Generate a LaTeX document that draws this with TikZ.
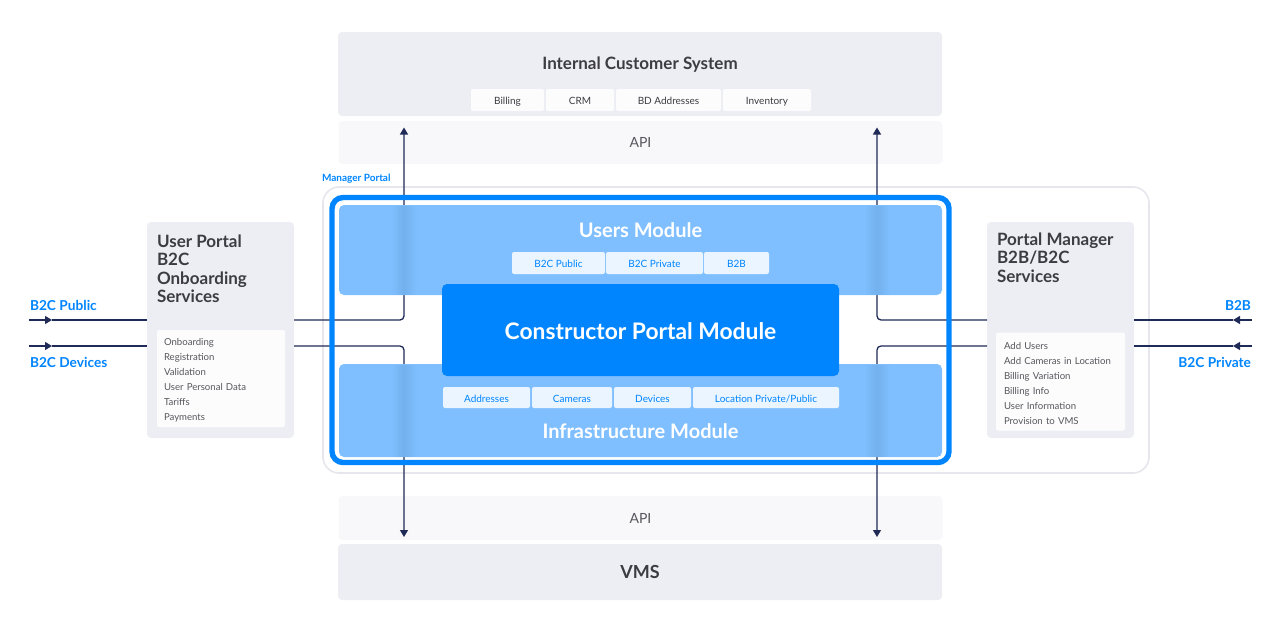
\documentclass[tikz,border=0pt]{standalone}
\usepackage{fontspec}
\setmainfont{Lato}
\usetikzlibrary{arrows.meta}
\definecolor{blueA}{HTML}{0085FF}
\definecolor{blueB}{HTML}{80BFFF}
\definecolor{blueC}{HTML}{72B1EC}
\definecolor{tabblue}{HTML}{EBF5FF}
\definecolor{greyA}{HTML}{EDEEF3}
\definecolor{greyB}{HTML}{F8F8FB}
\definecolor{greyC}{HTML}{E6E6EC}
\definecolor{inkA}{HTML}{3C3C42}
\definecolor{inkB}{HTML}{56565C}
\definecolor{wire}{HTML}{1F2A56}
\newcommand{\fs}[1]{\fontsize{#1}{#1}\selectfont}
\newcommand{\listtop}{\rule{0pt}{11pt}}
\begin{document}
\begin{tikzpicture}[
		x=1pt, y=-1pt,
		every node/.style={inner sep=0pt, outer sep=0pt},
		panel/.style={fill=greyA, rounded corners=4pt, text=inkA, font=\fs{17}\bfseries},
		band/.style={fill=greyB, rounded corners=4pt, text=inkB, font=\fs{14}},
		module/.style={fill=blueB, rounded corners=5pt},
		tabgrey/.style={fill=white!60!greyB, rounded corners=2pt, minimum height=22pt, text=inkA, font=\fs{10}, text height=10pt, text depth=0.5pt},
		tabblue/.style={fill=tabblue, rounded corners=2pt, minimum height=22pt, text=blueA, font=\fs{10}, text height=10pt, text depth=0.5pt},
		heading/.style={text=inkA, font=\fs{17}\bfseries, align=left, anchor=north west},
		listbox/.style={fill=white!60!greyB, rounded corners=2pt, text=inkB, font=\fs{9.6}, align=left},
		title/.style={text=white, font=\fs{20}\bfseries},
		side/.style={text=blueA, font=\fs{13.7}\bfseries},
		flow/.style={draw=wire, line width=1.3pt, rounded corners=4pt},
		tip/.style={-{Triangle[length=7pt,width=8pt]}},
		stripe/.style={left color=blueB, right color=blueB, middle color=blueC, minimum width=26pt}
	]
	\useasboundingbox (0,0) rectangle (1280,643);

	% outer portal frame
	\node (portal) [draw=greyC, line width=1.6pt, rounded corners=16pt, minimum width=826pt, minimum height=286pt] at (736,330) {};
	\node (portallabel) [text=blueA, font=\fs{10}\bfseries, anchor=west] at (322,178.5) {Manager Portal};

	% systems above and below
	\node (ics) [panel, minimum width=604pt, minimum height=84pt] at (640,74) {};
	\node (icstitle) [text=inkA, font=\fs{17}\bfseries] at (640,65) {Internal Customer System};
	\node (billing) [tabgrey, minimum width=73pt] at (507.5,100) {Billing};
	\node (crm) [tabgrey, minimum width=68pt] at (580,100) {CRM};
	\node (bdaddr) [tabgrey, minimum width=105pt] at (668.5,100) {BD Addresses};
	\node (inventory) [tabgrey, minimum width=88pt] at (767,100) {Inventory};
	\node (apitop) [band, minimum width=604pt, minimum height=43pt] at (640.5,142.5) {API};
	\node (apibot) [band, minimum width=604pt, minimum height=44pt] at (640.5,518) {API};
	\node (vms) [panel, minimum width=604pt, minimum height=56pt, font=\fs{18}\bfseries] at (640,572) {VMS};

	% side services
	\node (userbox) [panel, minimum width=147pt, minimum height=216pt] at (220.5,330) {};
	\node (userhead) [heading] at (157,235) {User Portal\\[1.3pt]B2C\\[1.3pt]Onboarding\\[1.3pt]Services};
	\node (userlist) [listbox, text width=114pt, inner xsep=7pt, minimum height=97pt] at (221,378.5) {\listtop Onboarding\\[5.4pt]Registration\\[5.4pt]Validation\\[5.4pt]User Personal Data\\[5.4pt]Tariffs\\[5.4pt]Payments};
	\node (mgrbox) [panel, minimum width=147pt, minimum height=216pt] at (1060.5,330) {};
	\node (mgrhead) [heading] at (997,233) {Portal Manager\\[1.3pt]B2B/B2C\\[1.3pt]Services};
	\node (mgrlist) [listbox, text width=113pt, inner xsep=8pt, minimum height=98pt] at (1060.5,381.5) {\listtop Add Users\\[5.4pt]Add Cameras in Location\\[5.4pt]Billing Variation\\[5.4pt]Billing Info\\[5.4pt]User Information\\[5.4pt]Provision to VMS};

	\node (b2cpublic) [side, anchor=west] at (30,305) {B2C Public};
	\node (b2cdevices) [side, anchor=west] at (30,362) {B2C Devices};
	\node (b2b) [side, anchor=east] at (1251,305) {B2B};
	\node (b2cprivate) [side, anchor=east] at (1251,362) {B2C Private};

	\coordinate (pubin) at (29,320);
	\coordinate (pubmid) at (52,320);
	\coordinate (devin) at (29,346);
	\coordinate (devmid) at (52,346);
	\coordinate (b2bin) at (1252,320);
	\coordinate (b2bmid) at (1233,320);
	\coordinate (privin) at (1252,346);
	\coordinate (privmid) at (1233,346);
	\coordinate (upL) at (404,127.5);
	\coordinate (upR) at (877,127.5);
	\coordinate (downL) at (404,537);
	\coordinate (downR) at (877,537);

	% connectors
	\draw[flow, tip] (pubin) -- (pubmid);
	\draw[flow] (pubmid) -- (userbox.west |- pubmid);
	\draw[flow, tip] (devin) -- (devmid);
	\draw[flow] (devmid) -- (userbox.west |- devmid);
	\draw[flow, tip] (b2bin) -- (b2bmid);
	\draw[flow] (b2bmid) -- (mgrbox.east |- b2bmid);
	\draw[flow, tip] (privin) -- (privmid);
	\draw[flow] (privmid) -- (mgrbox.east |- privmid);
	\draw[flow, tip] (userbox.east |- pubmid) -| (upL);
	\draw[flow, tip] (userbox.east |- devmid) -| (downL);
	\draw[flow, tip] (mgrbox.west |- b2bmid) -| (upR);
	\draw[flow, tip] (mgrbox.west |- privmid) -| (downR);

	% the modules sit over the connectors
	\node (frame) [draw=blueA, line width=5.4pt, rounded corners=11pt, minimum width=617pt, minimum height=265pt] at (640.5,330) {};
	\node (users) [module, minimum width=603pt, minimum height=90pt] at (640.5,250) {};
	\node (infra) [module, minimum width=603pt, minimum height=93pt] at (640.5,410.5) {};
	\node (stripeUL) [stripe, minimum height=88pt] at (404,250) {};
	\node (stripeUR) [stripe, minimum height=88pt] at (877,250) {};
	\node (stripeIL) [stripe, minimum height=91pt] at (404,410.5) {};
	\node (stripeIR) [stripe, minimum height=91pt] at (877,410.5) {};
	\node (userstitle) [title] at (640.5,230) {Users Module};
	\node (tabpublic) [tabblue, minimum width=93pt] at (558.5,263) {B2C Public};
	\node (tabprivate) [tabblue, minimum width=97pt] at (654.5,263) {B2C Private};
	\node (tabb2b) [tabblue, minimum width=65pt] at (736.5,263) {B2B};
	\node (constructor) [fill=blueA, rounded corners=5pt, text=white, font=\fs{22.8}\bfseries, text height=19.4pt, text depth=0pt, minimum width=397pt, minimum height=92pt] at (640.5,330) {Constructor Portal Module};
	\node (tabaddr) [tabblue, minimum width=87pt, minimum height=21pt] at (486.5,397.5) {Addresses};
	\node (tabcam) [tabblue, minimum width=80pt, minimum height=21pt] at (572,397.5) {Cameras};
	\node (tabdev) [tabblue, minimum width=77pt, minimum height=21pt] at (652.5,397.5) {Devices};
	\node (tabloc) [tabblue, minimum width=146pt, minimum height=21pt] at (766,397.5) {Location Private/Public};
	\node (infratitle) [title] at (640.5,431) {Infrastructure Module};
\end{tikzpicture}
\end{document}
